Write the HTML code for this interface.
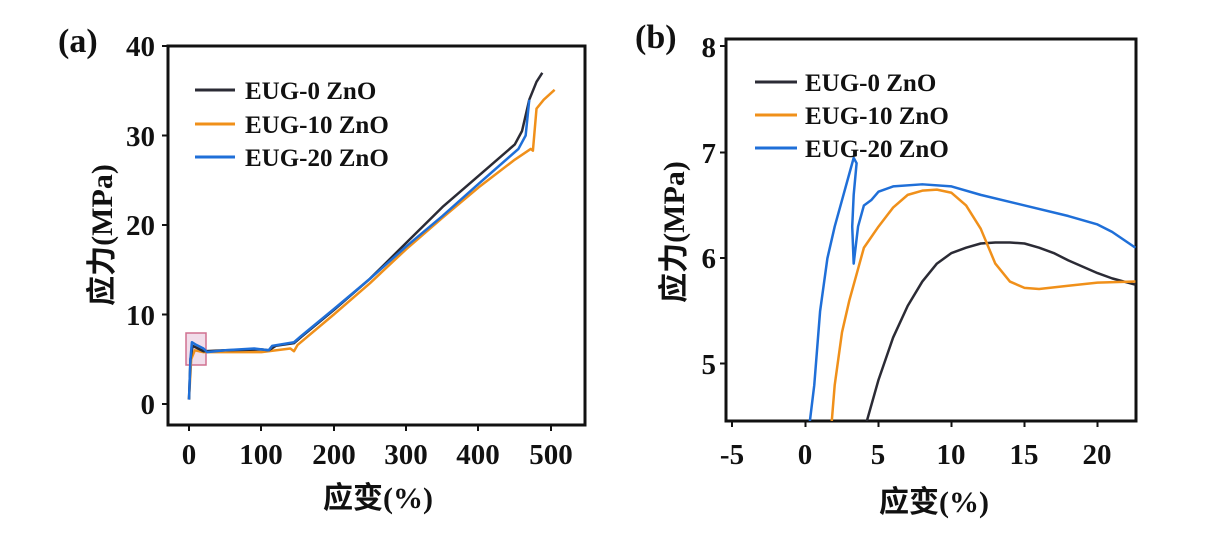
<!DOCTYPE html>
<html><head><meta charset="utf-8"><style>
html,body{margin:0;padding:0;background:#fff;}
svg{display:block;}
text{font-family:"Liberation Serif","Noto Serif CJK SC",serif;font-weight:bold;fill:#111;}
.cn{font-family:"Liberation Serif","Noto Sans CJK SC",sans-serif;font-weight:bold;}
</style></head><body>
<svg width="1206" height="535" viewBox="0 0 1206 535" xmlns="http://www.w3.org/2000/svg">
<defs>
<clipPath id="ca"><rect x="168" y="46" width="417" height="379"/></clipPath>
<clipPath id="cb"><rect x="726" y="39" width="410" height="382"/></clipPath>
</defs>
<!-- Panel a -->
<text x="58" y="52" font-size="34">(a)</text>
<rect x="168" y="46" width="417" height="379" fill="none" stroke="#111" stroke-width="3"/>
<g font-size="29" text-anchor="end">
<text x="155" y="56">40</text><text x="155" y="146">30</text><text x="155" y="235">20</text><text x="155" y="325">10</text><text x="155" y="414">0</text>
</g>
<g stroke="#111" stroke-width="2">
<line x1="162" y1="46" x2="168" y2="46"/><line x1="162" y1="135.5" x2="168" y2="135.5"/><line x1="162" y1="225" x2="168" y2="225"/><line x1="162" y1="314.5" x2="168" y2="314.5"/><line x1="162" y1="404" x2="168" y2="404"/>
<line x1="189" y1="425" x2="189" y2="431"/><line x1="261" y1="425" x2="261" y2="431"/><line x1="334" y1="425" x2="334" y2="431"/><line x1="406" y1="425" x2="406" y2="431"/><line x1="478" y1="425" x2="478" y2="431"/><line x1="551" y1="425" x2="551" y2="431"/>
</g>
<g font-size="29" text-anchor="middle">
<text x="189" y="464">0</text><text x="261" y="464">100</text><text x="334" y="464">200</text><text x="406" y="464">300</text><text x="478" y="464">400</text><text x="551" y="464">500</text>
</g>
<text class="cn" x="378" y="508" font-size="30" text-anchor="middle">应变(%)</text>
<text class="cn" x="0" y="0" font-size="30" text-anchor="middle" transform="translate(112,235) rotate(-90)">应力(MPa)</text>
<rect x="186" y="333" width="20" height="32" fill="#e8c6dc" fill-opacity="0.6" stroke="#d07090" stroke-width="1.5"/>
<g clip-path="url(#ca)" fill="none" stroke-width="2.5" stroke-linejoin="round">
<g transform="translate(189,404) scale(0.724,-8.95)">
<polyline vector-effect="non-scaling-stroke" stroke="#f0901a" points="0,0.5 3,5 8,6 20,5.8 100,5.8 140,6.2 145,5.9 150,6.6 200,10 250,13.5 300,17.3 350,20.8 400,24.2 450,27.3 472,28.5 475,28.3 480,33 490,34 505,35.1"/>
<polyline vector-effect="non-scaling-stroke" stroke="#2b2b35" points="0,0.5 2,5 5,6.5 10,6.3 20,5.9 50,6 100,6.1 110,6 120,6.5 145,6.8 155,7.5 200,10.5 250,14 300,18 350,22 400,25.5 450,29 460,30.5 470,34 480,36 488,37"/>
<polyline vector-effect="non-scaling-stroke" stroke="#1f6fd8" points="0,0.5 2,5 4,6.9 10,6.6 20,6.2 25,5.8 50,6 90,6.2 110,6 115,6.5 145,6.9 155,7.6 200,10.6 250,14 300,17.6 350,21 400,24.6 455,28.5 465,30 470,34"/>
</g></g>
<g stroke-width="3">
<line x1="195" y1="90" x2="235" y2="90" stroke="#2b2b35"/>
<line x1="195" y1="124" x2="235" y2="124" stroke="#f0901a"/>
<line x1="195" y1="157" x2="235" y2="157" stroke="#1f6fd8"/>
</g>
<g font-size="25">
<text x="245" y="99">EUG-0 ZnO</text><text x="245" y="133">EUG-10 ZnO</text><text x="245" y="166">EUG-20 ZnO</text>
</g>

<!-- Panel b -->
<text x="635" y="48" font-size="34">(b)</text>
<rect x="726" y="39" width="410" height="382" fill="none" stroke="#111" stroke-width="3"/>
<g font-size="29" text-anchor="end">
<text x="716" y="57">8</text><text x="716" y="163">7</text><text x="716" y="268">6</text><text x="716" y="374">5</text>
</g>
<g stroke="#111" stroke-width="2">
<line x1="720" y1="46" x2="726" y2="46"/><line x1="720" y1="152.5" x2="726" y2="152.5"/><line x1="720" y1="258" x2="726" y2="258"/><line x1="720" y1="363.5" x2="726" y2="363.5"/>
<line x1="732" y1="421" x2="732" y2="427"/><line x1="805.5" y1="421" x2="805.5" y2="427"/><line x1="878.5" y1="421" x2="878.5" y2="427"/><line x1="951.5" y1="421" x2="951.5" y2="427"/><line x1="1024.5" y1="421" x2="1024.5" y2="427"/><line x1="1097.5" y1="421" x2="1097.5" y2="427"/>
</g>
<g font-size="29" text-anchor="middle">
<text x="732" y="464">-5</text><text x="805" y="464">0</text><text x="878" y="464">5</text><text x="951" y="464">10</text><text x="1024" y="464">15</text><text x="1097" y="464">20</text>
</g>
<text class="cn" x="934" y="512" font-size="30" text-anchor="middle">应变(%)</text>
<text class="cn" x="0" y="0" font-size="30" text-anchor="middle" transform="translate(684,232) rotate(-90)">应力(MPa)</text>
<g clip-path="url(#cb)" fill="none" stroke-width="2.5" stroke-linejoin="round">
<g transform="translate(805.5,892.5) scale(14.6,-105.7)">
<polyline vector-effect="non-scaling-stroke" stroke="#2b2b35" points="4.2,4.46 5,4.85 6,5.25 7,5.55 8,5.78 9,5.95 10,6.05 11,6.1 12,6.14 13,6.15 14,6.15 15,6.14 16,6.1 17,6.05 18,5.98 19,5.92 20,5.86 21,5.81 22.6,5.75"/>
<polyline vector-effect="non-scaling-stroke" stroke="#f0901a" points="1.8,4.46 2,4.8 2.5,5.3 3,5.6 3.5,5.85 4,6.1 5,6.3 6,6.48 7,6.6 8,6.64 9,6.65 10,6.62 11,6.5 12,6.28 13,5.95 14,5.78 15,5.72 16,5.71 18,5.74 20,5.77 22.6,5.78"/>
<polyline vector-effect="non-scaling-stroke" stroke="#1f6fd8" points="0.3,4.46 0.6,4.8 1,5.5 1.5,6.0 2,6.3 2.5,6.55 3,6.8 3.3,6.95 3.5,6.9 3.3,6.6 3.2,6.3 3.3,5.95 3.6,6.3 4,6.5 4.5,6.55 5,6.63 6,6.68 8,6.7 10,6.68 12,6.6 15,6.5 18,6.4 20,6.32 21,6.25 22.6,6.1"/>
</g></g>
<g stroke-width="3">
<line x1="755" y1="82" x2="797" y2="82" stroke="#2b2b35"/>
<line x1="755" y1="115" x2="797" y2="115" stroke="#f0901a"/>
<line x1="755" y1="148" x2="797" y2="148" stroke="#1f6fd8"/>
</g>
<g font-size="25">
<text x="805" y="91">EUG-0 ZnO</text><text x="805" y="124">EUG-10 ZnO</text><text x="805" y="157">EUG-20 ZnO</text>
</g>
</svg>
</body></html>
